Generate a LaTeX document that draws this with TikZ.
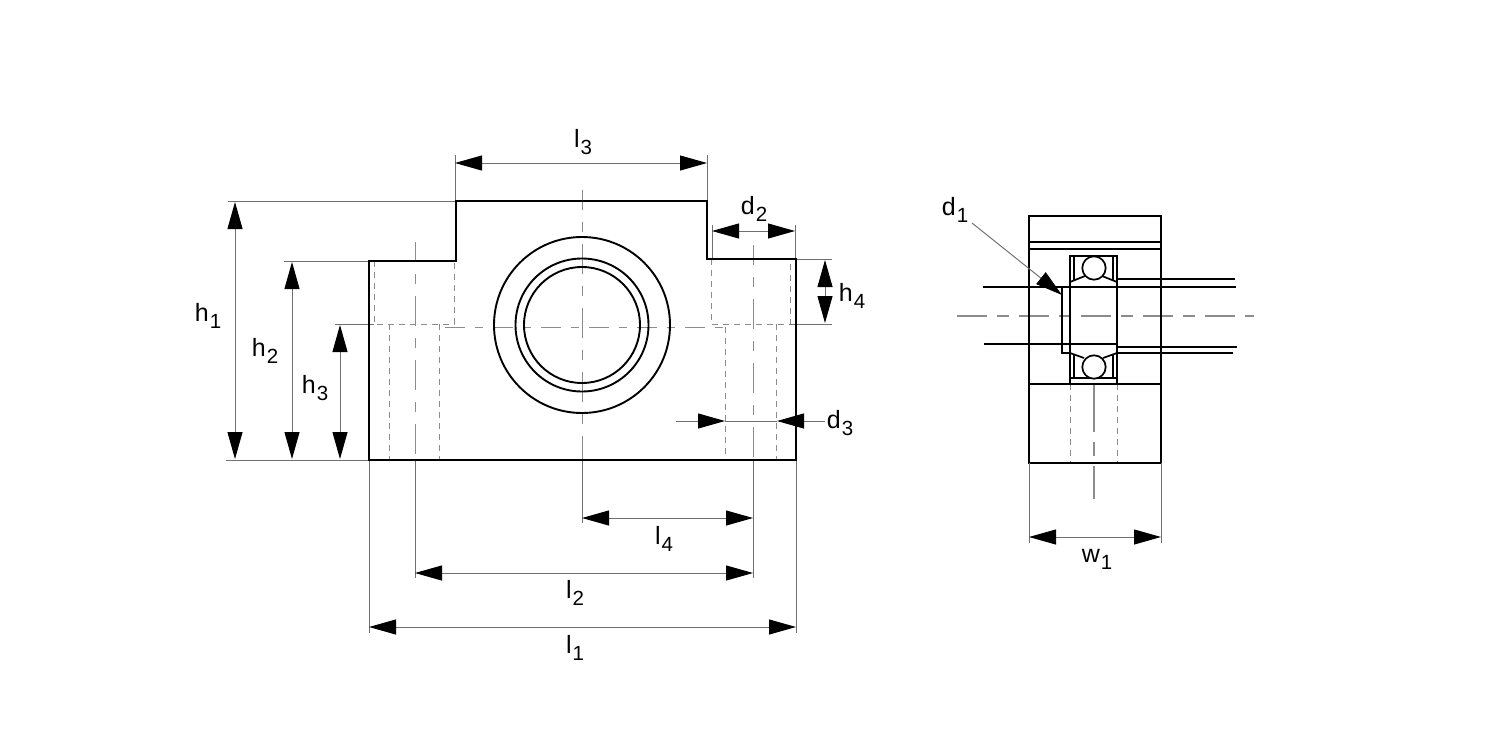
\documentclass[tikz,border=0pt]{standalone}
\usepackage{fontspec}
\setmainfont{Liberation Sans}
\usetikzlibrary{arrows.meta}
\definecolor{thinc}{HTML}{707070}
\definecolor{midc}{HTML}{8C8C8C}
\newcommand{\dimlab}[2]{{\fontsize{25}{25}\selectfont #1\hspace{1pt}\raisebox{-7pt}{\fontsize{20.5}{20.5}\selectfont #2}}}
\tikzset{
  x=1pt,y=-1pt,
  heavy/.style={line width=2.1pt,black,line join=miter},
  circ/.style={line width=1.9pt,black},
  medium/.style={line width=1.7pt,black},
  thinline/.style={line width=1pt,thinc},
  hidden/.style={line width=0.9pt,midc,dash pattern=on 6pt off 5pt},
  centerl/.style={line width=1pt,midc,dash pattern=on 30pt off 12pt on 10pt off 12pt,dash phase=10pt},
  centermid/.style={line width=1pt,midc,dash pattern=on 20pt off 10pt on 8pt off 10pt},
  centerh/.style={line width=1.5pt,midc,dash pattern=on 30pt off 10pt on 12pt off 10pt},
  centerv/.style={line width=1.2pt,midc,dash pattern=on 48pt off 10pt on 14pt off 10pt on 33pt off 10pt},
  dimline/.style={line width=1pt,thinc,{Triangle[length=27pt,width=15pt,black,fill=black]}-{Triangle[length=27pt,width=15pt,black,fill=black]}},
  onetip/.style={line width=1pt,thinc,-{Triangle[length=27pt,width=15pt,black,fill=black]}},
  lab/.style={inner sep=0pt,black}
}
\begin{document}
\begin{tikzpicture}
\useasboundingbox (0,0) rectangle (1500,750);
\fill[white] (0,0) rectangle (1500,750);

% ---- front view: hidden lines
\draw[hidden] (374,261) -- (374,324) -- (454,324) -- (454,261);
\draw[hidden] (711,259) -- (711,324) -- (790,324) -- (790,259);
\draw[hidden] (389,324) -- (389,460);
\draw[hidden] (439,324) -- (439,460);
\draw[hidden] (725,327) -- (725,460);
\draw[hidden] (776,324) -- (776,460);
% centre lines
\draw[centerl] (582,190) -- (582,460);
\draw[centerl] (415,242) -- (415,460);
\draw[centerl] (753,245) -- (753,460);
\draw[centermid] (445,327) -- (725,327);

% extension lines
\coordinate (T1a) at (228,201); \coordinate (T1b) at (456,201);
\draw[thinline] (T1a) -- (T1b);
\draw[thinline] (284,261) -- (369,261);
\draw[thinline] (335,324) -- (374,324);
\draw[thinline] (226,460) -- (369,460);
\draw[thinline] (455,155) -- (455,201);
\draw[thinline] (707,155) -- (707,201);
\draw[thinline] (712,225) -- (712,259);
\draw[thinline] (795,225) -- (795,259);
\draw[thinline] (796,259) -- (832,259);
\draw[thinline] (790,324) -- (832,324);
\draw[thinline] (369,460) -- (369,633);
\draw[thinline] (796,460) -- (796,633);
\draw[thinline] (415,460) -- (415,578);
\draw[thinline] (753,460) -- (753,578);
\draw[thinline] (582,460) -- (582,523);

% front view: outline and bore
\draw[heavy] (369,460) -- (369,261) -- (456,261) -- (456,201) -- (707,201) -- (707,259) -- (796,259) -- (796,460) -- cycle;
\draw[circ] (582,325) circle[radius=88];
\draw[circ] (582,325) circle[radius=66.5];
\draw[circ] (582,325) circle[radius=58];

% dimensions, front view
\draw[dimline] (455,163) -- (707,163);
\draw[dimline] (712,231) -- (795,231);
\draw[dimline] (825,260) -- (825,323);
\draw[dimline] (235,202) -- (235,459);
\draw[dimline] (292,262) -- (292,459);
\draw[dimline] (340,325) -- (340,459);
\draw[dimline] (582,518) -- (753,518);
\draw[dimline] (415,573) -- (753,573);
\draw[dimline] (369,627) -- (796,627);
\coordinate (d3l) at (676,421); \coordinate (d3a) at (725,421);
\coordinate (d3r) at (825,421); \coordinate (d3b) at (777,421);
\draw[onetip] (d3l) -- (d3a);
\draw[thinline] (d3a) -- (d3b);
\draw[onetip] (d3r) -- (d3b);

\node[lab] (l3) at (583,142) {\dimlab{l}{3}};
\node[lab] (d2) at (754,209) {\dimlab{d}{2}};
\node[lab] (h4) at (852,296) {\dimlab{h}{4}};
\node[lab] (d3) at (840,423) {\dimlab{d}{3}};
\node[lab] (h1) at (208,316) {\dimlab{h}{1}};
\node[lab] (h2) at (265,351) {\dimlab{h}{2}};
\node[lab] (h3) at (315,388) {\dimlab{h}{3}};
\node[lab] (l4) at (664,539) {\dimlab{l}{4}};
\node[lab] (l2) at (575,593) {\dimlab{l}{2}};
\node[lab] (l1) at (575,648) {\dimlab{l}{1}};

% ---- side view
\draw[centerh] (957,316) -- (1254,316);
\draw[hidden] (1070,384) -- (1070,463);
\draw[hidden] (1117,384) -- (1117,463);
\draw[centerv] (1094,384) -- (1094,499);

\draw[medium] (983,287) -- (1236,287);
\draw[medium] (1117,279) -- (1235,279);
\draw[medium] (984,344) -- (1117,344);
\draw[medium] (1117,347) -- (1237,347);
\draw[medium] (1117,353) -- (1233,353);
\draw[medium] (1062,287) -- (1062,353) -- (1070,353);
\draw[medium] (1070,256) rectangle (1117,384);
\draw[medium] (1074,256) -- (1074,280);
\draw[medium] (1113,256) -- (1113,280);
\draw[medium] (1074,355) -- (1074,378);
\draw[medium] (1113,355) -- (1113,378);
\draw[medium] (1070,378) -- (1117,378);
\draw[medium] (1070,282) -- (1085,276);
\draw[medium] (1117,282) -- (1102,276);
\draw[medium] (1070,353) -- (1084,358);
\draw[medium] (1117,353) -- (1103,358);
\draw[medium,fill=white] (1094,268) circle[radius=11.7];
\draw[medium,fill=white] (1094,367) circle[radius=11.7];

\draw[heavy] (1029,216) rectangle (1161,463);
\draw[medium] (1029,242) -- (1161,242);
\draw[medium] (1029,249) -- (1161,249);
\draw[medium] (1029,384) -- (1161,384);

\draw[thinline] (1029,463) -- (1029,543);
\draw[thinline] (1161,463) -- (1161,543);
\draw[dimline] (1029,537) -- (1161,537);
\coordinate (d1s) at (972,223); \coordinate (d1t) at (1062,295);
\draw[onetip] (d1s) -- (d1t);
\node[lab] (d1) at (955,210) {\dimlab{d}{1}};
\node[lab] (w1) at (1097,559) {\dimlab{w}{1}};
\end{tikzpicture}
\end{document}
